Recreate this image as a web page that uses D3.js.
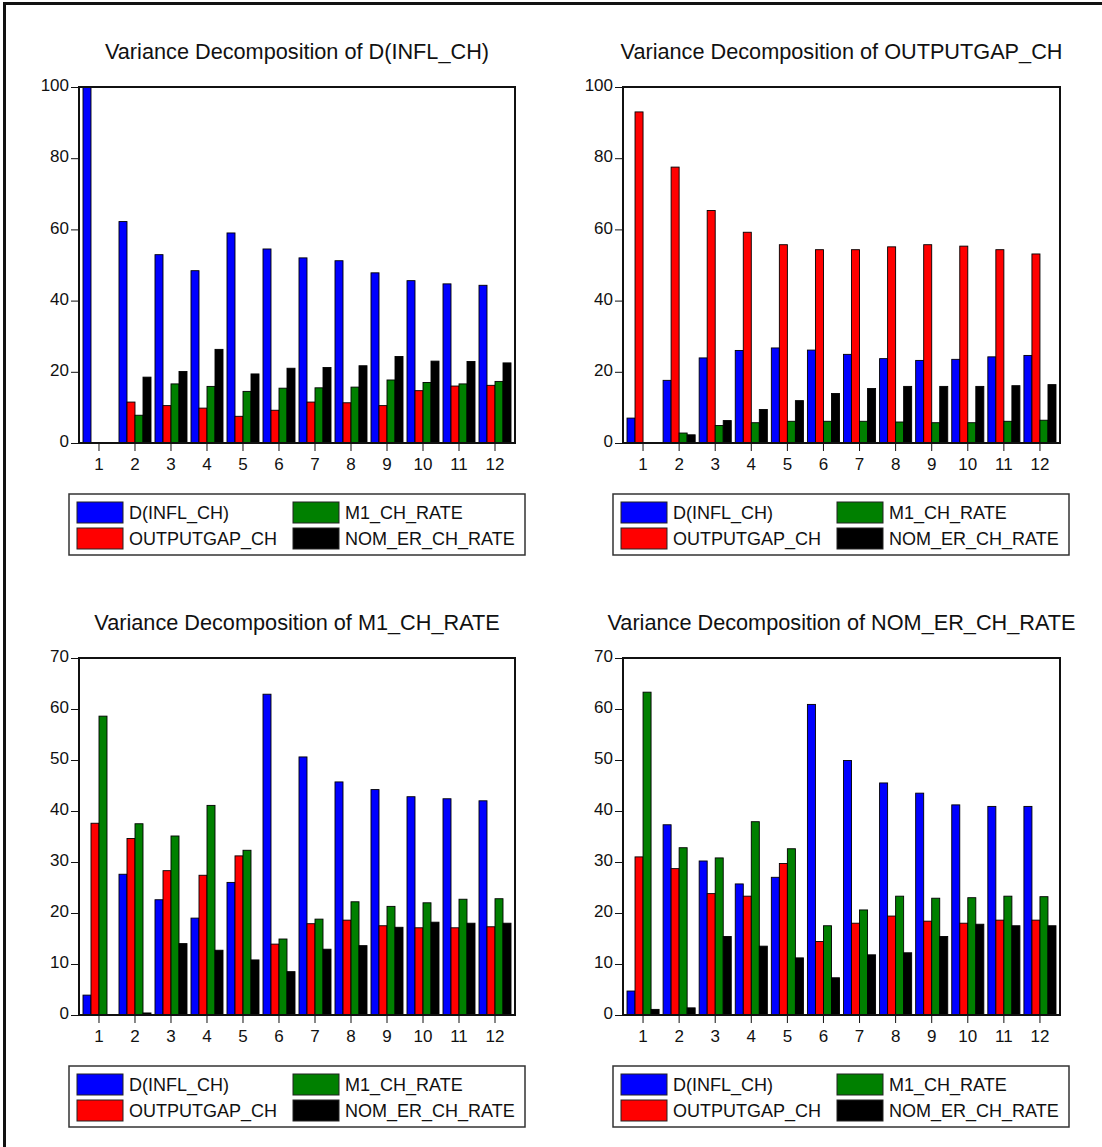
<!DOCTYPE html>
<html>
<head>
<meta charset="utf-8">
<script src="https://cdn.jsdelivr.net/npm/d3@7.9.0/dist/d3.min.js"></script>
<style>
  body { margin: 0; background: #fff; }
  svg { display: block; font-family: "Liberation Sans", Arial, sans-serif; }
</style>
</head>
<body>
<svg id="chart" width="1102" height="1147"></svg>
<script>
// horizons (periods) on the x axis
const horizons = [1, 2, 3, 4, 5, 6, 7, 8, 9, 10, 11, 12];

const shockNames = ["D(INFL_CH)", "OUTPUTGAP_CH", "M1_CH_RATE", "NOM_ER_CH_RATE"];
const shockColors = ["#0000ff", "#ff0000", "#008000", "#000000"];

const ticksTop = [0, 20, 40, 60, 80, 100];
const ticksBottom = [0, 10, 20, 30, 40, 50, 60, 70];

// Variance Decomposition of D(INFL_CH)
const inflByInfl = [100, 62.2, 52.9, 48.4, 59.0, 54.5, 52.0, 51.2, 47.8, 45.6, 44.7, 44.3];
const inflByGap  = [0, 11.5, 10.5, 9.8, 7.5, 9.2, 11.5, 11.3, 10.5, 14.7, 16.0, 16.2];
const inflByM1   = [0, 7.8, 16.6, 15.9, 14.5, 15.4, 15.5, 15.7, 17.7, 17.0, 16.6, 17.3];
const inflByEr   = [0, 18.5, 20.1, 26.3, 19.4, 21.0, 21.2, 21.7, 24.3, 23.0, 22.9, 22.5];

// Variance Decomposition of OUTPUTGAP_CH
const gapByInfl = [7.0, 17.6, 23.9, 26.0, 26.7, 26.1, 24.9, 23.7, 23.2, 23.5, 24.2, 24.6];
const gapByGap  = [93.0, 77.5, 65.3, 59.2, 55.7, 54.3, 54.3, 55.1, 55.7, 55.3, 54.3, 53.1];
const gapByM1   = [0, 2.8, 4.9, 5.7, 6.1, 6.1, 6.1, 5.9, 5.7, 5.7, 6.1, 6.4];
const gapByEr   = [0, 2.3, 6.3, 9.4, 11.9, 13.9, 15.3, 15.9, 15.9, 15.9, 16.1, 16.4];

// Variance Decomposition of M1_CH_RATE
const m1ByInfl = [3.9, 27.6, 22.6, 19.0, 26.0, 62.9, 50.6, 45.7, 44.2, 42.8, 42.4, 42.0];
const m1ByGap  = [37.6, 34.6, 28.3, 27.4, 31.2, 13.9, 17.9, 18.6, 17.5, 17.1, 17.1, 17.3];
const m1ByM1   = [58.6, 37.5, 35.1, 41.1, 32.3, 14.9, 18.8, 22.2, 21.3, 22.0, 22.7, 22.8];
const m1ByEr   = [0, 0.4, 14.0, 12.7, 10.8, 8.5, 12.9, 13.6, 17.2, 18.2, 18.0, 18.0];

// Variance Decomposition of NOM_ER_CH_RATE
const erByInfl = [4.7, 37.3, 30.2, 25.7, 27.0, 60.9, 49.9, 45.5, 43.5, 41.2, 40.9, 40.9];
const erByGap  = [31.0, 28.7, 23.8, 23.3, 29.7, 14.4, 18.0, 19.4, 18.4, 18.0, 18.6, 18.6];
const erByM1   = [63.3, 32.8, 30.8, 37.9, 32.6, 17.5, 20.6, 23.3, 22.9, 23.0, 23.3, 23.2];
const erByEr   = [1.1, 1.4, 15.4, 13.5, 11.2, 7.3, 11.8, 12.2, 15.4, 17.8, 17.5, 17.5];

const panels = [
  { title: "Variance Decomposition of D(INFL_CH)", series: [inflByInfl, inflByGap, inflByM1, inflByEr],
    yMax: 100, ticks: ticksTop, left: 79, right: 515, top: 87, bottom: 443 },
  { title: "Variance Decomposition of OUTPUTGAP_CH", series: [gapByInfl, gapByGap, gapByM1, gapByEr],
    yMax: 100, ticks: ticksTop, left: 623, right: 1060, top: 87, bottom: 443 },
  { title: "Variance Decomposition of M1_CH_RATE", series: [m1ByInfl, m1ByGap, m1ByM1, m1ByEr],
    yMax: 70, ticks: ticksBottom, left: 79, right: 515, top: 658, bottom: 1015 },
  { title: "Variance Decomposition of NOM_ER_CH_RATE", series: [erByInfl, erByGap, erByM1, erByEr],
    yMax: 70, ticks: ticksBottom, left: 623, right: 1060, top: 658, bottom: 1015 }
];

const svg = d3.select("#chart");

svg.append("rect")
  .attr("width", 1102).attr("height", 1147)
  .attr("fill", "#fff");

// outer frame (only left and top edges fall inside the picture)
svg.append("rect")
  .attr("x", 4.5).attr("y", 3.5)
  .attr("width", 1200).attr("height", 1200)
  .attr("fill", "none")
  .attr("stroke", "#111")
  .attr("stroke-width", 3);

function drawPanel(p) {
  const g = svg.append("g");

  const x = d3.scaleBand()
    .domain(horizons)
    .range([p.left, p.right])
    .paddingInner(0.111)
    .paddingOuter(0.111);

  const x1 = d3.scaleBand()
    .domain(d3.range(shockNames.length))
    .range([0, x.bandwidth()]);

  const y = d3.scaleLinear()
    .domain([0, p.yMax])
    .range([p.bottom, p.top]);

  // title
  g.append("text")
    .attr("x", (p.left + p.right) / 2)
    .attr("y", p.top - 28)
    .attr("text-anchor", "middle")
    .attr("font-size", 21.7)
    .attr("fill", "#111")
    .text(p.title);

  // bars
  p.series.forEach((vals, si) => {
    g.append("g")
      .selectAll("rect")
      .data(vals)
      .join("rect")
      .attr("x", (d, i) => x(horizons[i]) + x1(si))
      .attr("y", d => y(d))
      .attr("width", x1.bandwidth())
      .attr("height", d => y(0) - y(d))
      .attr("fill", shockColors[si])
      .attr("stroke", d => d > 0 ? "#000" : "none")
      .attr("stroke-width", 0.9);
  });

  // axes
  const yAxis = g.append("g")
    .attr("transform", `translate(${p.left},0)`)
    .call(d3.axisLeft(y).tickValues(p.ticks).tickSize(8).tickPadding(2));
  yAxis.select(".domain").remove();
  yAxis.selectAll("text")
    .attr("font-size", 17)
    .attr("font-family", "Liberation Sans, Arial, sans-serif")
    .attr("fill", "#111")
    .attr("dy", "0.22em");
  yAxis.selectAll("line").attr("stroke", "#111");

  const xAxis = g.append("g")
    .attr("transform", `translate(0,${p.bottom})`)
    .call(d3.axisBottom(x).tickSize(8).tickPadding(7));
  xAxis.select(".domain").remove();
  xAxis.selectAll("text")
    .attr("font-size", 17)
    .attr("font-family", "Liberation Sans, Arial, sans-serif")
    .attr("fill", "#111");
  xAxis.selectAll("line").attr("stroke", "#111");

  // plot frame
  g.append("rect")
    .attr("x", p.left).attr("y", p.top)
    .attr("width", p.right - p.left)
    .attr("height", p.bottom - p.top)
    .attr("fill", "none")
    .attr("stroke", "#111")
    .attr("stroke-width", 2);

  // legend
  const lx = p.left - 10, ly = p.bottom + 51;
  const lg = g.append("g").attr("transform", `translate(${lx},${ly})`);
  lg.append("rect")
    .attr("width", 456).attr("height", 61)
    .attr("fill", "#fff")
    .attr("stroke", "#333")
    .attr("stroke-width", 1.5);

  shockNames.forEach((name, i) => {
    const col = Math.floor(i / 2), row = i % 2;
    const sx = 8 + col * 216, sy = 8 + row * 26;
    lg.append("rect")
      .attr("x", sx).attr("y", sy)
      .attr("width", 46).attr("height", 21)
      .attr("fill", shockColors[i])
      .attr("stroke", "#222")
      .attr("stroke-width", 1);
    lg.append("text")
      .attr("x", sx + 52).attr("y", sy + 17)
      .attr("font-size", 18)
      .attr("fill", "#111")
      .text(name);
  });
}

panels.forEach(drawPanel);
</script>
</body>
</html>
